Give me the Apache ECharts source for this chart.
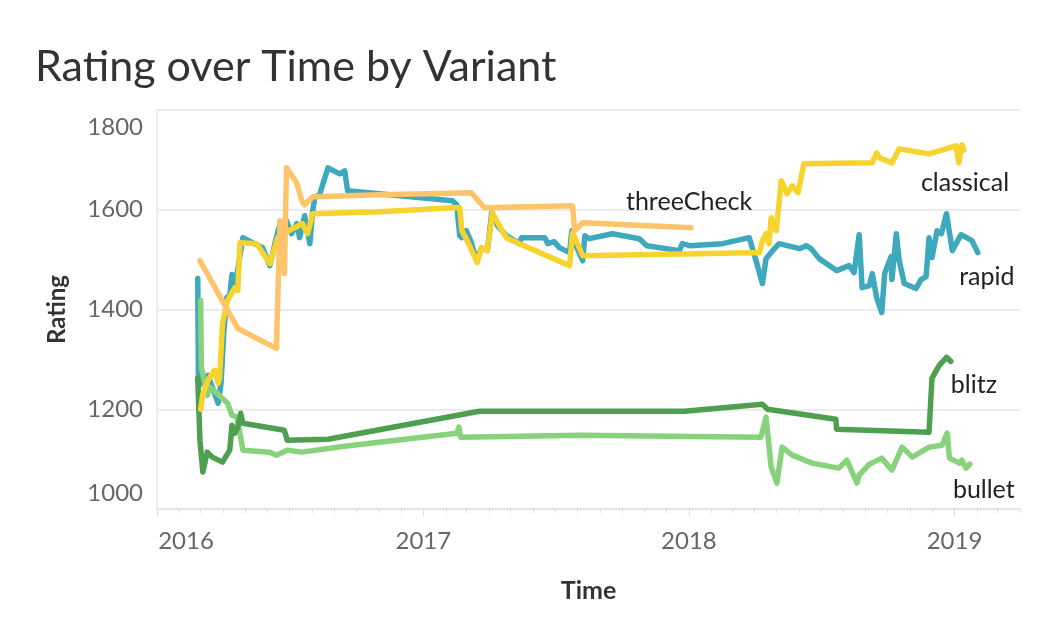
<!DOCTYPE html>
<html>
<head>
    <meta charset="utf-8">
    <title>Rating over Time by Variant</title>
    <script src="https://cdn.jsdelivr.net/npm/echarts@6/dist/echarts.min.js"></script>
    <style>
        html, body { margin: 0; padding: 0; background: #fff; }
        #chart { width: 1044px; height: 644px; }
    </style>
</head>
<body>
<div id="chart"></div>
<script>
    // ratings per variant, [date, rating]
    var rapid = [
        ['2016-02-26',1462],['2016-02-27',1245],['2016-03-04',1258],['2016-03-11',1268],['2016-03-18',1240],
        ['2016-03-25',1212],['2016-03-29',1252],['2016-04-02',1358],['2016-04-06',1424],['2016-04-10',1428],
        ['2016-04-13',1470],['2016-04-16',1440],['2016-04-21',1480],['2016-04-28',1544],['2016-05-25',1524],
        ['2016-06-04',1488],['2016-06-13',1544],['2016-06-18',1572],['2016-06-27',1578],['2016-07-04',1552],
        ['2016-07-11',1572],['2016-07-15',1544],['2016-07-22',1588],['2016-07-29',1532],['2016-08-02',1598],
        ['2016-08-05',1624],['2016-08-12',1632],['2016-08-16',1652],['2016-08-23',1684],['2016-09-08',1672],
        ['2016-09-15',1678],['2016-09-19',1638],['2017-02-10',1618],['2017-02-16',1610],['2017-02-20',1548],
        ['2017-02-23',1544],['2017-03-01',1558],['2017-03-08',1534],['2017-03-15',1498],['2017-03-22',1524],
        ['2017-03-30',1518],['2017-04-05',1594],['2017-04-13',1568],['2017-04-25',1548],['2017-05-13',1532],
        ['2017-05-16',1544],['2017-06-17',1544],['2017-06-21',1532],['2017-06-30',1536],['2017-07-07',1524],
        ['2017-07-21',1514],['2017-07-24',1558],['2017-07-28',1534],['2017-08-08',1498],['2017-08-11',1548],
        ['2017-08-17',1542],['2017-09-18',1552],['2017-10-25',1542],['2017-11-04',1528],['2017-12-19',1518],
        ['2017-12-23',1532],['2018-01-02',1528],['2018-02-16',1532],['2018-03-25',1544],['2018-04-04',1494],
        ['2018-04-12',1452],['2018-04-17',1502],['2018-04-26',1518],['2018-05-05',1532],['2018-06-02',1522],
        ['2018-06-11',1528],['2018-06-18',1522],['2018-06-29',1502],['2018-07-23',1478],['2018-08-09',1488],
        ['2018-08-16',1474],['2018-08-23',1550],['2018-08-27',1444],['2018-09-06',1448],['2018-09-10',1472],
        ['2018-09-16',1424],['2018-09-23',1394],['2018-09-27',1472],['2018-09-30',1484],['2018-10-06',1506],
        ['2018-10-07',1460],['2018-10-13',1552],['2018-10-17',1498],['2018-10-24',1452],['2018-11-09',1442],
        ['2018-11-16',1460],['2018-11-23',1466],['2018-11-27',1544],['2018-12-01',1504],['2018-12-08',1558],
        ['2018-12-14',1552],['2018-12-21',1592],['2018-12-29',1518],['2019-01-10',1550],['2019-01-25',1538],
        ['2019-02-02',1514]
    ];
    var classical = [
        ['2016-03-01',1200],['2016-03-04',1230],['2016-03-11',1258],['2016-03-20',1278],['2016-03-25',1252],
        ['2016-03-27',1262],['2016-03-31',1372],['2016-04-07',1418],['2016-04-17',1444],['2016-04-21',1438],
        ['2016-04-24',1534],['2016-05-17',1532],['2016-06-04',1492],['2016-06-15',1544],['2016-07-05',1562],
        ['2016-07-19',1572],['2016-07-26',1552],['2016-08-02',1592],['2016-11-02',1596],['2017-02-10',1604],
        ['2017-02-20',1604],['2017-02-23',1558],['2017-03-01',1542],['2017-03-16',1494],['2017-03-22',1524],
        ['2017-03-30',1518],['2017-04-06',1594],['2017-04-13',1574],['2017-04-25',1544],['2017-05-13',1532],
        ['2017-07-21',1488],['2017-07-25',1554],['2017-08-08',1508],['2018-03-29',1514],['2018-04-08',1514],
        ['2018-04-12',1538],['2018-04-17',1552],['2018-04-21',1532],['2018-04-24',1584],['2018-05-01',1558],
        ['2018-05-08',1658],['2018-05-09',1662],['2018-05-16',1632],['2018-05-23',1648],['2018-05-31',1634],
        ['2018-06-08',1692],['2018-09-10',1694],['2018-09-16',1714],['2018-09-20',1704],['2018-10-07',1694],
        ['2018-10-17',1722],['2018-11-27',1712],['2019-01-03',1728],['2019-01-07',1694],['2019-01-11',1730],
        ['2019-01-14',1720]
    ];
    var threeCheck = [
        ['2016-02-29',1498],['2016-04-21',1362],['2016-06-13',1322],['2016-06-18',1578],['2016-06-24',1472],
        ['2016-06-27',1684],['2016-07-11',1654],['2016-07-18',1618],['2016-07-22',1610],['2016-08-02',1626],
        ['2016-11-02',1630],['2017-03-08',1634],['2017-03-26',1604],['2017-07-25',1608],['2017-07-28',1558],
        ['2017-08-08',1574],['2018-01-04',1564]
    ];
    var blitz = [
        ['2016-02-26',1262],['2016-02-29',1138],['2016-03-04',1074],['2016-03-10',1114],['2016-03-17',1104],
        ['2016-03-31',1094],['2016-04-10',1118],['2016-04-13',1168],['2016-04-17',1152],['2016-04-21',1164],
        ['2016-04-25',1192],['2016-04-28',1172],['2016-06-24',1158],['2016-06-28',1138],['2016-08-23',1140],
        ['2017-03-19',1196],['2017-12-26',1196],['2018-04-12',1210],['2018-04-19',1200],['2018-07-22',1180],
        ['2018-07-23',1160],['2018-11-27',1154],['2018-12-01',1262],['2018-12-11',1288],['2018-12-21',1304],
        ['2018-12-27',1296]
    ];
    var bullet = [
        ['2016-03-01',1418],['2016-03-02',1284],['2016-03-10',1228],['2016-03-14',1244],['2016-04-07',1212],
        ['2016-04-13',1188],['2016-04-20',1184],['2016-04-24',1152],['2016-04-28',1118],['2016-06-04',1114],
        ['2016-06-13',1108],['2016-06-28',1118],['2016-07-18',1114],['2016-09-15',1126],['2017-02-16',1152],
        ['2017-02-19',1164],['2017-02-21',1144],['2017-08-04',1148],['2018-04-10',1144],['2018-04-17',1184],
        ['2018-04-24',1084],['2018-05-02',1052],['2018-05-09',1124],['2018-05-23',1108],['2018-06-19',1092],
        ['2018-07-26',1082],['2018-08-06',1098],['2018-08-20',1052],['2018-08-23',1068],['2018-09-06',1090],
        ['2018-09-23',1102],['2018-10-07',1078],['2018-10-21',1124],['2018-11-04',1104],['2018-11-27',1124],
        ['2018-12-15',1128],['2018-12-22',1152],['2018-12-25',1102],['2019-01-08',1092],['2019-01-11',1098],
        ['2019-01-17',1082],['2019-01-22',1090]
    ];

    var FONT = 'Lato';
    var DAY = 24 * 3600 * 1000;
    var X_MIN = '2016-01-01', X_MAX = '2019-04-01';

    function makeSeries(name, data, color, dx, dy) {
        return {
            name: name,
            type: 'line',
            data: data,
            showSymbol: false,
            symbol: 'none',
            silent: true,
            lineStyle: { color: color, width: 5.5, cap: 'round', join: 'round' },
            endLabel: {
                show: true,
                formatter: '{a}',
                fontFamily: FONT,
                fontSize: 25,
                color: '#222',
                align: 'center',
                verticalAlign: 'middle',
                distance: 0,
                offset: [dx, dy]
            }
        };
    }

    var myChart = echarts.init(document.getElementById('chart'));
    myChart.setOption({
        animation: false,
        backgroundColor: '#fff',
        title: {
            text: 'Rating over Time by Variant',
            left: 30,
            top: 41,
            textStyle: { fontFamily: FONT, fontSize: 43, fontWeight: 'normal', color: '#333' }
        },
        grid: { left: 157, right: 24, top: 110, bottom: 135, containLabel: false },
        xAxis: [{
            type: 'time',
            min: X_MIN,
            max: X_MAX,
            minInterval: 365 * DAY,
            maxInterval: 366 * DAY,
            name: 'Time',
            nameLocation: 'middle',
            nameGap: 69,
            nameTextStyle: { fontFamily: FONT, fontSize: 25, fontWeight: 'bold', color: '#333' },
            axisLine: { show: true, lineStyle: { color: '#e6e6e6', width: 2 } },
            axisTick: { show: true, length: 7, lineStyle: { color: '#ddd' } },
            splitLine: { show: false },
            axisLabel: {
                fontFamily: FONT,
                fontSize: 24,
                color: '#666',
                margin: 20,
                formatter: function (v) {
                    var y = new Date(v).getFullYear();
                    return y === 2016 ? '{first|2016}' : String(y);
                },
                rich: {
                    first: { fontFamily: FONT, fontSize: 24, color: '#666', padding: [0, 0, 0, 58] }
                }
            }
        }, {
            // monthly ticks only
            type: 'time',
            min: X_MIN,
            max: X_MAX,
            position: 'bottom',
            minInterval: 28 * DAY,
            maxInterval: 31 * DAY,
            axisLine: { show: false },
            axisTick: { show: true, length: 4, lineStyle: { color: '#ddd' } },
            axisLabel: { show: false },
            splitLine: { show: false }
        }],
        yAxis: {
            type: 'value',
            min: 1000,
            max: 1800,
            interval: 200,
            name: 'Rating',
            nameLocation: 'middle',
            nameGap: 88,
            nameTextStyle: { fontFamily: FONT, fontSize: 24, fontWeight: 'bold', color: '#333' },
            axisLine: { show: true, lineStyle: { color: '#eeeeee', width: 2 } },
            axisTick: { show: false },
            splitLine: { show: true, lineStyle: { color: '#ececec', width: 2 } },
            axisLabel: {
                fontFamily: FONT,
                fontSize: 24,
                color: '#666',
                margin: 14,
                formatter: function (v) {
                    if (v === 1800) return '{hi|1800}';
                    if (v === 1000) return '{lo|1000}';
                    return String(v);
                },
                rich: {
                    hi: { fontFamily: FONT, fontSize: 24, color: '#666', padding: [34, 0, 0, 0] },
                    lo: { fontFamily: FONT, fontSize: 24, color: '#666', padding: [0, 0, 32, 0] }
                }
            }
        },
        series: [
            makeSeries('rapid', rapid, '#3ea8bc', 9, 24),
            makeSeries('bullet', bullet, '#88d27c', 14, 26),
            makeSeries('blitz', blitz, '#4e9f50', 23, 24),
            makeSeries('classical', classical, '#f6d32d', 1, 33),
            makeSeries('threeCheck', threeCheck, '#fdc46b', -2, -26)
        ]
    });
</script>
</body>
</html>
